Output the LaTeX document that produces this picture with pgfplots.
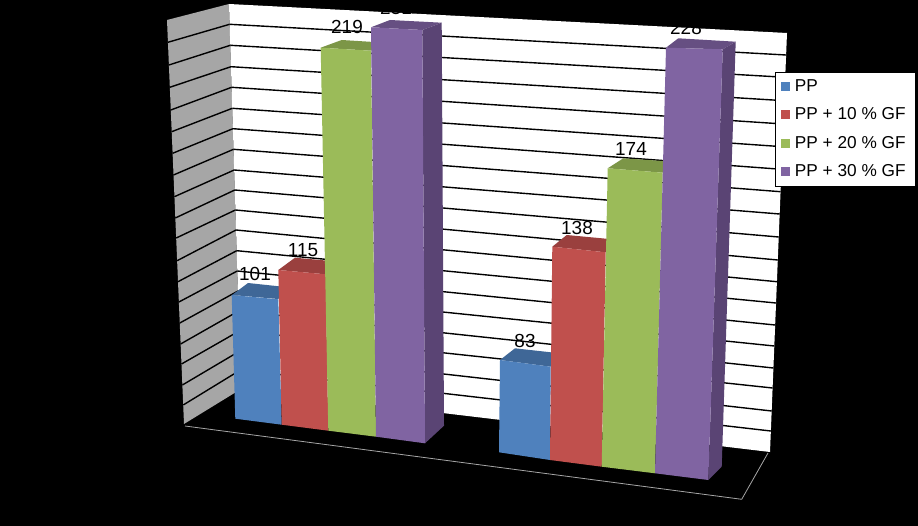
\documentclass[border=0pt]{standalone}
\usepackage{fontspec}
\setmainfont{Liberation Sans}
\usepackage{pgfplots}
\pgfplotsset{compat=1.18}

\definecolor{wallgray}{HTML}{A6A6A6}
\definecolor{ppblue}{HTML}{4F81BD}
\definecolor{ppblueT}{HTML}{3F6797}
\definecolor{ppred}{HTML}{C0504D}
\definecolor{ppredT}{HTML}{9A403E}
\definecolor{ppgreen}{HTML}{9BBB59}
\definecolor{ppgreenT}{HTML}{7C9647}
\definecolor{pppurple}{HTML}{8064A2}
\definecolor{pppurpleT}{HTML}{664F82}
\definecolor{pppurpleS}{HTML}{5A4474}

\pgfplotsset{
  face/.style={draw=none, mark=none, forget plot},
}
\tikzset{
  barlabel/.style={font=\fontsize{19}{19}\selectfont, text=black, inner sep=0pt},
}

\begin{document}
\begin{tikzpicture}
\begin{axis}[
    scale only axis,
    width=918bp, height=526bp,
    xmin=0, xmax=918,
    ymin=0, ymax=526,
    y dir=reverse,
    hide axis,
    clip=false,
    unbounded coords=jump,
    legend cell align=left,
    legend image code/.code={
        \path (0bp,0bp) (17bp,0bp);
        \fill[#1] (5bp,-4.5bp) rectangle (14bp,4.5bp);},
    legend style={
        at={(axis cs:774.7,71.7)}, anchor=north west,
        draw=black, fill=white, line width=0.5pt,
        font=\fontsize{17.3}{17.3}\selectfont,
        inner xsep=1bp, inner ysep=5.5bp,
        row sep=11bp,
    },
]
% background
\addplot[face, fill=black] coordinates {(0,0)(918,0)(918,526)(0,526)} -- cycle;

% walls
\addplot[face, fill=wallgray] coordinates {(167,20)(229,4)(241,389)(184,424)} -- cycle;
\addplot[face, fill=white] coordinates {(229,4)(787,33)(770,452)(241,389)} -- cycle;

% grid, back wall
\addplot[forget plot, black, line width=1.4pt, mark=none] coordinates {
(229.6,24.3)(786.1,55)(nan,nan)
(230.3,45.3)(785.2,77.3)(nan,nan)
(231,66.7)(784.3,100.7)(nan,nan)
(231.6,87.3)(783.3,124)(nan,nan)
(232.3,108.3)(782.4,146.7)(nan,nan)
(232.9,128.7)(781.5,169.3)(nan,nan)
(233.5,149.3)(780.6,191.7)(nan,nan)
(234.2,170)(779.7,214)(nan,nan)
(234.8,190)(778.7,237)(nan,nan)
(235.4,210)(777.8,260)(nan,nan)
(236,230)(776.9,281.7)(nan,nan)
(236.7,250.7)(776,303)(nan,nan)
(237.3,271)(775.1,325)(nan,nan)
(238,291)(774.3,346)(nan,nan)
(238.6,311)(773.4,368)(nan,nan)
(239.2,331)(772.6,388)(nan,nan)
(239.8,351)(771.7,411)(nan,nan)
(240.4,370)(770.8,431)
};
% grid, side wall
\addplot[forget plot, black, line width=1.4pt, mark=none] coordinates {
(167.9,42.3)(229.6,24.3)(nan,nan)
(168.9,65)(230.3,45.3)(nan,nan)
(169.8,87.3)(231,66.7)(nan,nan)
(170.8,110)(231.6,87.3)(nan,nan)
(171.7,131.7)(232.3,108.3)(nan,nan)
(172.6,153.3)(232.9,128.7)(nan,nan)
(173.5,175)(233.5,149.3)(nan,nan)
(174.4,196.7)(234.2,170)(nan,nan)
(175.3,218)(234.8,190)(nan,nan)
(176.2,238)(235.4,210)(nan,nan)
(177.1,260.7)(236,230)(nan,nan)
(178,281.7)(236.7,250.7)(nan,nan)
(178.9,302)(237.3,271)(nan,nan)
(179.8,323)(238,291)(nan,nan)
(180.6,344)(238.6,311)(nan,nan)
(181.5,364)(239.2,331)(nan,nan)
(182.4,385)(239.8,351)(nan,nan)
(183.2,405)(240.4,370)
};

% floor outline
\addplot[forget plot, wallgray, line width=0.8pt, mark=none] coordinates {(185,426)(741.7,499.3)(768,453)};

% labels sit behind the bars of the next series
\node[barlabel] at (axis cs:255,274) {101};

% group 1
\addplot[face, fill=ppblueT] coordinates {(232,295)(248,283)(295,288)(278,299)} -- cycle;
\addplot[face, fill=ppblue] coordinates {(231.7,295)(278.3,299.3)(281.7,424.7)(235.3,418.7)} -- cycle;
\node[barlabel] at (axis cs:303,250) {115};
\addplot[face, fill=ppredT] coordinates {(278.3,270)(295,257.7)(342,262)(325.7,274.3)} -- cycle;
\addplot[face, fill=ppred] coordinates {(278.3,270)(325.7,274.3)(328.3,430.7)(281.7,424.7)} -- cycle;
\node[barlabel] at (axis cs:347,27) {219};
\addplot[face, fill=ppgreenT] coordinates {(320.7,47.7)(341.7,40)(390,43)(371,50.7)} -- cycle;
\addplot[face, fill=ppgreen] coordinates {(320.7,47.7)(371,50.7)(376,436.7)(328.3,430.7)} -- cycle;
\node[barlabel] at (axis cs:396,7.5) {231};
\addplot[face, fill=pppurpleT] coordinates {(371,27.3)(390,20)(441.7,22.7)(422.3,30)} -- cycle;
\addplot[face, fill=pppurpleS] coordinates {(422.3,30)(441.7,22.7)(444,425.7)(425,443.3)} -- cycle;
\addplot[face, fill=pppurple] coordinates {(371,27.3)(422.3,30)(425,443.3)(376,436.7)} -- cycle;

% group 2
\node[barlabel] at (axis cs:525,341) {83};
\addplot[face, fill=ppblueT] coordinates {(500,360)(515,348.3)(566,354)(550.7,366.7)} -- cycle;
\addplot[face, fill=ppblue] coordinates {(500,360)(550.7,366.7)(550,460)(499,452.3)} -- cycle;
\node[barlabel] at (axis cs:577,228) {138};
\addplot[face, fill=ppredT] coordinates {(552.3,246.7)(566.7,235)(620,240)(605.7,252.3)} -- cycle;
\addplot[face, fill=ppred] coordinates {(552.3,246.7)(605.7,252.3)(601.7,466.7)(550,460)} -- cycle;
\node[barlabel] at (axis cs:631,149) {174};
\addplot[face, fill=ppgreenT] coordinates {(607.7,168.3)(623.3,158.3)(678,162)(662.7,172.7)} -- cycle;
\addplot[face, fill=ppgreen] coordinates {(607.7,168.3)(662.7,172.7)(655,473.3)(601.7,466.7)} -- cycle;
\node[barlabel] at (axis cs:686,28) {228};
\addplot[face, fill=pppurpleT] coordinates {(666,47.7)(678.3,38.3)(735.7,41.7)(722.7,49.3)} -- cycle;
\addplot[face, fill=pppurpleS] coordinates {(722.7,49.3)(735.7,41.7)(721.7,466.7)(708.3,480)} -- cycle;
\addplot[face, fill=pppurple] coordinates {(666,47.7)(722.7,49.3)(708.3,480)(655,473.3)} -- cycle;

% legend entries
\addlegendimage{fill=ppblue, draw=none}
\addlegendentry{PP}
\addlegendimage{fill=ppred, draw=none}
\addlegendentry{PP + 10 \% GF\rule{7bp}{0pt}}
\addlegendimage{fill=ppgreen, draw=none}
\addlegendentry{PP + 20 \% GF\rule{7bp}{0pt}}
\addlegendimage{fill=pppurple, draw=none}
\addlegendentry{PP + 30 \% GF\rule{7bp}{0pt}}
\end{axis}
\end{tikzpicture}
\end{document}
